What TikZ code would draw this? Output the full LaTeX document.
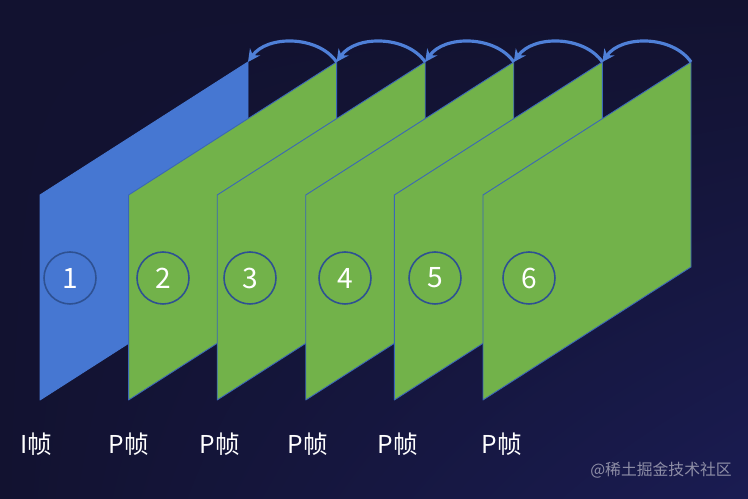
\documentclass[tikz,border=0pt]{standalone}
\usepackage{fontspec}
\setmainfont{Noto Sans CJK SC}
\usetikzlibrary{arrows.meta,shadings}
\definecolor{fondA}{HTML}{121230}
\definecolor{fondB}{HTML}{1A1C52}
\definecolor{bleuI}{HTML}{4677D2}
\definecolor{vertP}{HTML}{72B24A}
\definecolor{bordure}{HTML}{3A66B8}
\definecolor{anneau}{HTML}{2E5192}
\definecolor{arc}{HTML}{4F80D8}
\definecolor{filigrane}{HTML}{8E8EA6}
\begin{document}
\begin{tikzpicture}[x=0.02cm,y=0.02cm]
		% Styles (MODIFIABLES)
		\tikzstyle{image}=[draw=bordure,line width=0.5pt,line join=round]
		\tikzstyle{imageI}=[image,fill=bleuI,draw=bleuI]
		\tikzstyle{imageP}=[image,fill=vertP]
		\tikzstyle{numero}=[circle,draw=anneau,line width=0.9pt,minimum size=1.04cm,inner sep=0pt,text=white,font=\fontsize{16}{18}\selectfont]
		\tikzstyle{fleche}=[-{Stealth[length=7pt,width=7pt]},line width=1.8pt,draw=arc]
		\tikzstyle{commentaire}=[text=white,font=\fontsize{14}{16}\selectfont]
		% Dimensions (MODIFIABLES)
		\def\Gauche{40}
		\def\Pas{88.6}
		\def\Largeur{208}
		\def\HautG{304}
		\def\BasG{99}
		\def\HautD{437}
		\def\BasD{232}
		% Dimensions calculées (NON MODIFIABLES)
		\def\ImageA{\Gauche+(0)*\Pas}
		\def\ImageB{\Gauche+(1)*\Pas}
		\def\ImageC{\Gauche+(2)*\Pas}
		\def\ImageD{\Gauche+(3)*\Pas}
		\def\ImageE{\Gauche+(4)*\Pas}
		\def\ImageF{\Gauche+(5)*\Pas}
		% Fond
		\useasboundingbox (0,0) rectangle (748,499);
		\shade[upper left=fondA,upper right=fondA,lower left=fondA,lower right=fondB] (0,0) rectangle (748,499);
		% Images (MODIFIABLES : Styles)
		\fill[imageI] ({\ImageA},\BasG) -- ({\ImageA},\HautG) -- ({\ImageA+\Largeur},\HautD) -- ({\ImageA+\Largeur},\BasD) -- cycle;
		\coordinate (C1) at ({\ImageA+\Largeur},\HautD);
		\node[numero] (N1) at (70,221) {1};
		\filldraw[imageP] ({\ImageB},\BasG) -- ({\ImageB},\HautG) -- ({\ImageB+\Largeur},\HautD) -- ({\ImageB+\Largeur},\BasD) -- cycle;
		\coordinate (C2) at ({\ImageB+\Largeur},\HautD);
		\node[numero] (N2) at (163,221) {2};
		\filldraw[imageP] ({\ImageC},\BasG) -- ({\ImageC},\HautG) -- ({\ImageC+\Largeur},\HautD) -- ({\ImageC+\Largeur},\BasD) -- cycle;
		\coordinate (C3) at ({\ImageC+\Largeur},\HautD);
		\node[numero] (N3) at (250,221) {3};
		\filldraw[imageP] ({\ImageD},\BasG) -- ({\ImageD},\HautG) -- ({\ImageD+\Largeur},\HautD) -- ({\ImageD+\Largeur},\BasD) -- cycle;
		\coordinate (C4) at ({\ImageD+\Largeur},\HautD);
		\node[numero] (N4) at (345,221) {4};
		\filldraw[imageP] ({\ImageE},\BasG) -- ({\ImageE},\HautG) -- ({\ImageE+\Largeur},\HautD) -- ({\ImageE+\Largeur},\BasD) -- cycle;
		\coordinate (C5) at ({\ImageE+\Largeur},\HautD);
		\node[numero] (N5) at (435,221) {5};
		\filldraw[imageP] ({\ImageF},\BasG) -- ({\ImageF},\HautG) -- ({\ImageF+\Largeur},\HautD) -- ({\ImageF+\Largeur},\BasD) -- cycle;
		\coordinate (C6) at ({\ImageF+\Largeur},\HautD);
		\node[numero] (N6) at (529,221) {6};
		% Etiquettes
		\node[commentaire] (T1) at (36,55) {I帧};
		\node[commentaire] (T2) at (129,55) {P帧};
		\node[commentaire] (T3) at (220,55) {P帧};
		\node[commentaire] (T4) at (308,55) {P帧};
		\node[commentaire] (T5) at (398,55) {P帧};
		\node[commentaire] (T6) at (502,55) {P帧};
		\node[text=filigrane,font=\fontsize{9}{11}\selectfont] (W) at (661,29) {@稀土掘金技术社区};
		% Arcs (MODIFIABLES : Styles)
		\draw[fleche] (C2) to[out=125,in=55,looseness=0.95] (C1);
		\draw[fleche] (C3) to[out=125,in=55,looseness=0.95] (C2);
		\draw[fleche] (C4) to[out=125,in=55,looseness=0.95] (C3);
		\draw[fleche] (C5) to[out=125,in=55,looseness=0.95] (C4);
		\draw[fleche] (C6) to[out=125,in=55,looseness=0.95] (C5);
	\end{tikzpicture}
\end{document}
